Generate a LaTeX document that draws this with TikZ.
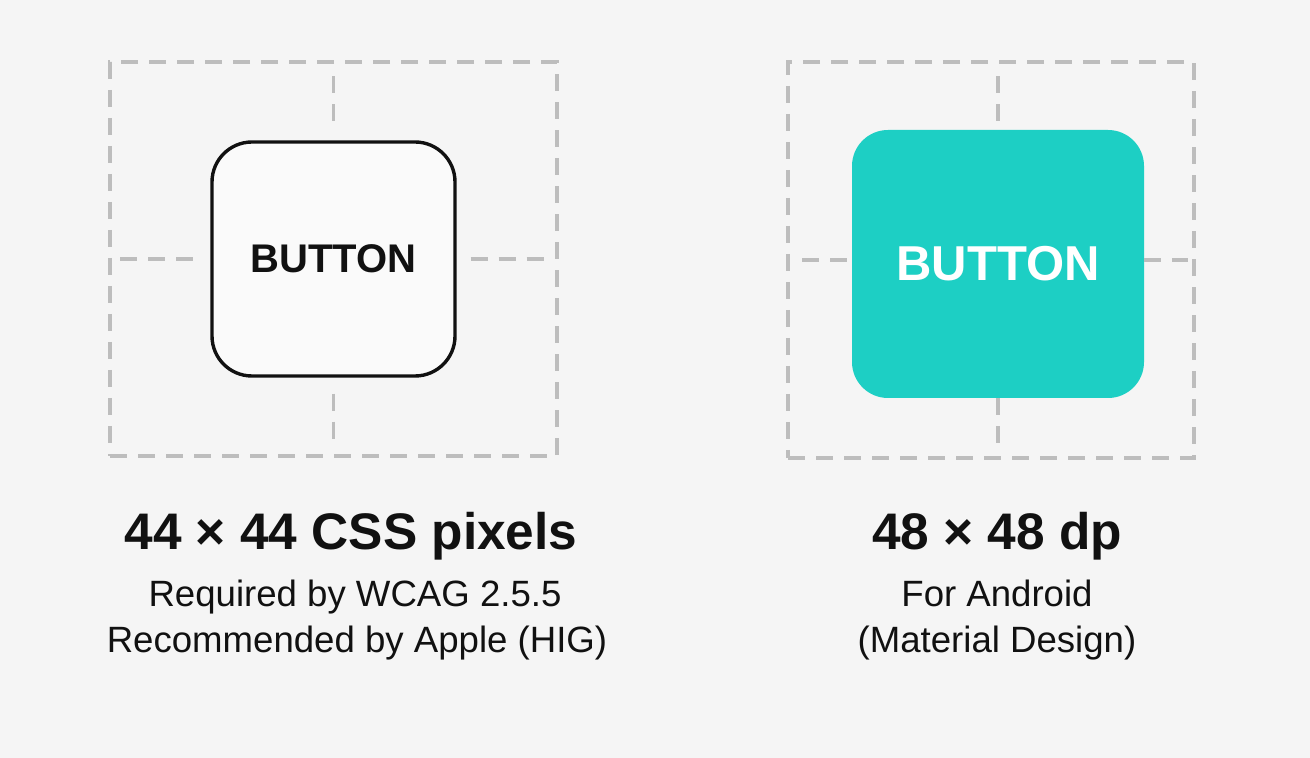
\documentclass[tikz,border=0pt]{standalone}
\usepackage{fontspec}
\setmainfont{Liberation Sans}
\usetikzlibrary{positioning}
\definecolor{bgcol}{HTML}{F5F5F5}
\definecolor{guidecol}{HTML}{BDBDBD}
\definecolor{tealbtn}{HTML}{1DCFC4}
\definecolor{inkcol}{HTML}{111111}
\tikzset{
    guide/.style={draw=guidecol, line width=1.7pt, dash pattern=on 8.5pt off 5.5pt},
    targetframe/.style={guide, inner sep=0pt},
    iosbtn/.style={draw=inkcol, fill=white!98!black, line width=1.7pt, rounded corners=20pt,
        inner sep=0pt, minimum width=121.5pt, minimum height=117pt, text=inkcol,
        font=\fontsize{20}{24}\selectfont\bfseries},
    androidbtn/.style={fill=tealbtn, rounded corners=18pt, inner sep=0pt,
        minimum width=146pt, minimum height=134pt, text=white,
        font=\fontsize{24.5}{29}\selectfont\bfseries},
    sizetitle/.style={anchor=base, text=inkcol, font=\fontsize{25.7}{30}\selectfont\bfseries},
    sizenote/.style={anchor=base, text=inkcol, font=\fontsize{18.3}{22}\selectfont}
}
\begin{document}
\begin{tikzpicture}[x=0.5pt, y=-0.5pt]
    \useasboundingbox[fill=bgcol] (0,0) rectangle (1310,758);

    % 44 x 44 (left)
    \node[targetframe, minimum width=223.5pt, minimum height=197pt] (lframe) at (333.5,259) {};
    \node[iosbtn] (lbtn) at (333.5,259) {BUTTON};
    \draw[guide, shorten <=8pt, shorten >=8pt] (lframe.north) -- (lbtn.north);
    \draw[guide, shorten <=8pt, shorten >=8pt] (lbtn.south) -- (lframe.south);
    \draw[guide, shorten <=6pt, shorten >=5pt] (lframe.west) -- (lbtn.west);
    \draw[guide, shorten <=7pt, shorten >=6pt] (lbtn.east) -- (lframe.east);

    % 48 x 48 (right)
    \node[targetframe, minimum width=203pt, minimum height=198pt] (rframe) at (991,260) {};
    \node[androidbtn] (rbtn) at (998,264) {BUTTON};
    \draw[guide, shorten <=8pt] (rbtn.north |- rframe.north) -- (rbtn.north);
    \draw[guide, shorten >=8pt] (rbtn.south) -- (rbtn.south |- rframe.south);
    \draw[guide, shorten <=8pt] (rframe.west) -- (rframe.west -| rbtn.west);
    \draw[guide, shorten >=4pt] (rframe.east -| rbtn.east) -- (rframe.east);

    % labels
    \node[sizetitle] (ltitle) at (351,549) {44 × 44 CSS pixels};
    \node[sizenote] (lnote1) at (355,606) {Required by WCAG 2.5.5};
    \node[sizenote] (lnote2) at (357,652) {Recommended by Apple (HIG)};

    \node[sizetitle] (rtitle) at (997,549) {48 × 48 dp};
    \node[sizenote] (rnote1) at (997,606) {For Android};
    \node[sizenote] (rnote2) at (997,652) {(Material Design)};
\end{tikzpicture}
\end{document}
